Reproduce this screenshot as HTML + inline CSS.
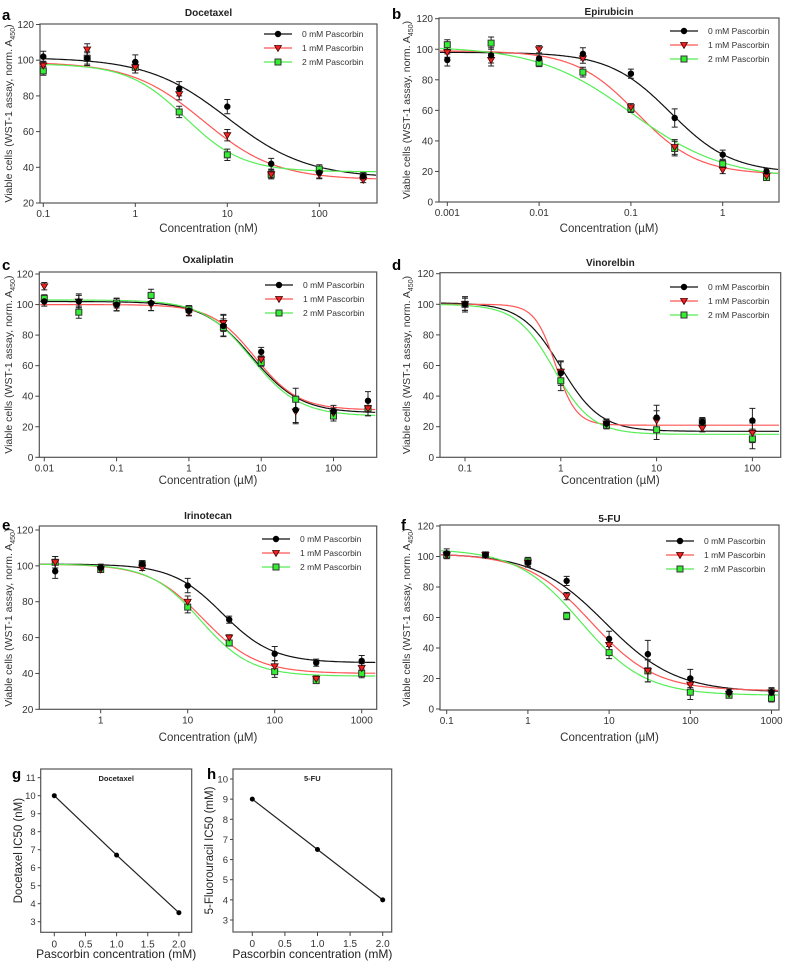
<!DOCTYPE html>
<html><head><meta charset="utf-8"><style>
html,body{margin:0;padding:0;background:#fff;}
svg{display:block;font-family:"Liberation Sans",Arial,sans-serif;}
</style></head><body>
<svg id="fig" width="785" height="967" viewBox="0 0 785 967" xmlns="http://www.w3.org/2000/svg"></svg>
<script>
// ---------- DATA ----------
const seriesNames = ["0 mM Pascorbin","1 mM Pascorbin","2 mM Pascorbin"];
// Panel a: Docetaxel
const aX = [0.1,0.3,1,3,10,30,100,300];
const aS0 = [102,101,99,84,74,42,37,35];
const aS1 = [97,106,96,81,58,36,36,33];
const aS2 = [94,101,96,71,47,36,39,35];
const aErr = [3,4,4,4,4,3,3,2];
const aFit0 = [101.5,34,10,1.0], aFit1 = [99,33,5.5,1.1], aFit2 = [98,37.5,3.5,1.4];
// Panel b: Epirubicin
const bX = [0.001,0.003,0.01,0.03,0.1,0.3,1,3];
const bS0 = [93,96,94,97,84,55,31,20];
const bS1 = [98,93,100,94,62,36,21,17];
const bS2 = [103,104,91,85,61,35,25,16];
const bErr = [4,5,3,4,3,6,3,2];
const bFit0 = [98,19,0.27,1.3], bFit1 = [99,18,0.115,1.3], bFit2 = [102,15,0.1,0.85];
// Panel c: Oxaliplatin
const cX = [0.01,0.03,0.1,0.3,1,3,10,30,100,300];
const cS0 = [102,102,100,101,96,86,69,31,30,37];
const cS1 = [112,102,99,100,95,88,64,30,29,32];
const cS2 = [104,95,101,106,97,85,62,38,27,32];
const cErr = [3,5,4,5,3,7,3,9,4,6];
const cFit0 = [102,29,7.5,1.3], cFit1 = [100,31,8.2,1.45], cFit2 = [103,27,7.3,1.3];
// Panel d: Vinorelbin
const dX = [0.1,1,3,10,30,100];
const dS0 = [100,55,22,26,23,24];
const dS1 = [100,56,22,24,19,16];
const dS2 = [100,50,21,18,23,12];
const dErr = [5,8,3,8,3,8];
const dFit0 = [101,17,1.0,2.1], dFit1 = [100,21,0.88,4], dFit2 = [100,15,0.85,2.2];
// Panel e: Irinotecan
const eX = [0.3,1,3,10,30,100,300,1000];
const eS0 = [97,99,101,89,70,51,46,47];
const eS1 = [102,98,99,80,60,44,37,43];
const eS2 = [102,98,101,77,57,41,36,40];
const eErr = [4,2,2,4,2,4,2,3];
const eFit0 = [101,46,25,1.5], eFit1 = [101,40,15,1.4], eFit2 = [101,38.5,14,1.5];
// Panel f: 5-FU
const fX = [0.1,0.3,1,3,10,30,100,300,1000];
const fS0 = [102,101,96,84,46,36,20,11,11];
const fS1 = [101,101,96,74,42,25,16,10,11];
const fS2 = [101,101,97,61,37,25,11,9,7];
const fErr = [3,2,3,3,5,9,6,2,3];
const fFit0 = [102,11,9,1.0], fFit1 = [102,12,6,1.1], fFit2 = [105,9,4.5,1.1];
// Panels g,h
const ghX = [0,1,2];
const gY = [10,6.7,3.5];
const hY = [9,6.5,4];
const gXTicks = [0,0.5,1.0,1.5,2.0];
const gYTicks = [3,4,5,6,7,8,9,10,11];
const hYTicks = [3,4,5,6,7,8,9,10];

// ---------- RENDER ----------
const NS="http://www.w3.org/2000/svg";
const svg=document.getElementById('fig');
function mk(tag,attrs,parent,name,inter){
  const el=document.createElementNS(NS,tag);
  for(const k in attrs) el.setAttribute(k,attrs[k]);
  
  
  (parent||svg).appendChild(el); return el;
}
function txt(x,y,s,attrs,parent,name){
  const t=mk('text',Object.assign({x:x,y:y},attrs||{}),parent,name);
  t.textContent=s; return t;
}
const lineCol=["#111","#ff5555","#55ee55"];

function drawMarker(g,type,x,y){
  let m;
  if(type===0){ m=mk('circle',{cx:x,cy:y,r:3.2,fill:'#000'},g,'marker-circle'); }
  else if(type===1){ m=mk('path',{d:`M${x-3.5},${y-2.5}L${x+3.5},${y-2.5}L${x},${y+3.5}Z`,fill:'#e22',stroke:'#400',"stroke-width":0.8},g,'marker-triangle'); }
  else { m=mk('rect',{x:x-3,y:y-3,width:6,height:6,fill:'#3e3',stroke:'#333',"stroke-width":1},g,'marker-square'); }
  return m;
}

function panel(cfg){
  const g=mk('g',{},svg,'panel-'+cfg.letter);
  const {L,R,T,B}=cfg;
  const ys=v=>cfg.y0px+(v-cfg.y0)*(cfg.y1px-cfg.y0px)/(cfg.y1-cfg.y0);
  const xs=v=>cfg.xp0+(Math.log10(v)-cfg.xd0)*cfg.dec;
  const xinv=p=>Math.pow(10,cfg.xd0+(p-cfg.xp0)/cfg.dec);
  mk('rect',{x:L,y:T,width:R-L,height:B-T,fill:'none',stroke:'#555',"stroke-width":1.2},g,'plot-frame');
  cfg.yticks.forEach(v=>{
    const y=ys(v);
    mk('line',{x1:L-4,x2:L,y1:y,y2:y,stroke:'#444'},g,'y-tick');
    txt(L-6,y+3.5,String(v),{"font-size":10,"text-anchor":"end",fill:'#333'},g,'y-tick-label');
  });
  cfg.xtickVals.forEach((v,i)=>{
    const x=xs(v);
    mk('line',{x1:x,x2:x,y1:B,y2:B+4,stroke:'#444'},g,'x-tick');
    txt(x,B+14,cfg.xtickLabels[i],{"font-size":10,"text-anchor":"middle",fill:'#333'},g,'x-tick-label');
  });
  txt((L+R)/2,cfg.xtitleY,cfg.xtitle,{"font-size":11.5,"text-anchor":"middle",fill:'#333'},g,'x-axis-title');
  const yt=mk('text',{x:0,y:0,transform:`translate(${cfg.ytitleX},${(T+B)/2}) rotate(-90)`,"font-size":10.5,"text-anchor":"middle",fill:'#333'},g,'y-axis-title');
  yt.innerHTML='Viable cells (WST-1 assay, norm. A<tspan font-size="7" dy="3">450</tspan><tspan dy="-3">)</tspan>';
  txt((L+R)/2,cfg.titleY,cfg.title,{"font-size":10,"font-weight":"bold","text-anchor":"middle",fill:'#222'},g,'panel-title');
  txt(cfg.lx,cfg.ly,cfg.letter,{"font-size":15,"font-weight":"bold",fill:'#000'},g,'panel-letter');
  cfg.fits.forEach((p,si)=>{
    let d='';
    for(let px=L+1;px<=R-1;px+=1){
      const x=xinv(px);
      const v=p[1]+(p[0]-p[1])/(1+Math.pow(x/p[2],p[3]));
      d+=(d?'L':'M')+px.toFixed(1)+','+ys(v).toFixed(1);
    }
    mk('path',{d:d,fill:'none',stroke:lineCol[si],"stroke-width":1.2},g,'fit-curve-'+si);
  });
  cfg.series.forEach((arr,si)=>{
    arr.forEach((v,i)=>{
      const x=xs(cfg.x[i]), e=cfg.err[i]*(si===0?1:0.8);
      mk('path',{d:`M${x},${ys(v+e)}L${x},${ys(v-e)}M${x-3},${ys(v+e)}L${x+3},${ys(v+e)}M${x-3},${ys(v-e)}L${x+3},${ys(v-e)}`,stroke:'#222',"stroke-width":1,fill:'none'},g,'error-bar');
    });
  });
  [2,1,0].forEach(si=>{
    cfg.series[si].forEach((v,i)=>drawMarker(g,si,xs(cfg.x[i]),ys(v)));
  });
  const lg=mk('g',{},g,'legend');
  seriesNames.forEach((n,si)=>{
    const y=cfg.legY+si*cfg.legDy;
    mk('line',{x1:cfg.legX,x2:cfg.legX+cfg.legW,y1:y,y2:y,stroke:lineCol[si],"stroke-width":1.2},lg,'legend-line');
    drawMarker(lg,si,cfg.legX+cfg.legW/2,y);
    txt(cfg.legX+cfg.legW+10,y+3,n,{"font-size":8.5,fill:'#333'},lg,'legend-entry');
  });
}

panel({letter:'a',title:'Docetaxel',L:40,R:377,T:24,B:203,y0:20,y0px:203,y1:120,y1px:24.5,xp0:43.3,xd0:-1,dec:92,
  yticks:[20,40,60,80,100,120],xtickVals:[0.1,1,10,100],xtickLabels:['0.1','1','10','100'],
  xtitle:'Concentration (nM)',xtitleY:232,ytitleX:12,titleY:16,lx:2,ly:20,
  x:aX,series:[aS0,aS1,aS2],err:aErr,fits:[aFit0,aFit1,aFit2],legX:264,legW:28,legY:34,legDy:14});
panel({letter:'b',title:'Epirubicin',L:439,R:779,T:18,B:202,y0:0,y0px:202,y1:120,y1px:18.7,xp0:447.3,xd0:-3,dec:91.8,
  yticks:[0,20,40,60,80,100,120],xtickVals:[0.001,0.01,0.1,1],xtickLabels:['0.001','0.01','0.1','1'],
  xtitle:'Concentration (µM)',xtitleY:232,ytitleX:410,titleY:15,lx:392,ly:19,
  x:bX,series:[bS0,bS1,bS2],err:bErr,fits:[bFit0,bFit1,bFit2],legX:670,legW:28,legY:31,legDy:14});
panel({letter:'c',title:'Oxaliplatin',L:39.3,R:376.7,T:272,B:457.3,y0:0,y0px:457.3,y1:120,y1px:274,xp0:44.3,xd0:-2,dec:72.3,
  yticks:[0,20,40,60,80,100,120],xtickVals:[0.01,0.1,1,10,100],xtickLabels:['0.01','0.1','1','10','100'],
  xtitle:'Concentration (µM)',xtitleY:484,ytitleX:12,titleY:263,lx:2,ly:270,
  x:cX,series:[cS0,cS1,cS2],err:cErr,fits:[cFit0,cFit1,cFit2],legX:265,legW:28,legY:285,legDy:14});
panel({letter:'d',title:'Vinorelbin',L:440,R:780.7,T:272.7,B:457.3,y0:0,y0px:457.3,y1:120,y1px:273.7,xp0:465,xd0:-1,dec:95.8,
  yticks:[0,20,40,60,80,100,120],xtickVals:[0.1,1,10,100],xtickLabels:['0.1','1','10','100'],
  xtitle:'Concentration (µM)',xtitleY:484,ytitleX:410,titleY:266,lx:392,ly:270,
  x:dX,series:[dS0,dS1,dS2],err:dErr,fits:[dFit0,dFit1,dFit2],legX:670,legW:28,legY:287,legDy:14});
panel({letter:'e',title:'Irinotecan',L:39.3,R:376.7,T:526,B:709.3,y0:20,y0px:709.3,y1:120,y1px:530,xp0:100.7,xd0:0,dec:87,
  yticks:[20,40,60,80,100,120],xtickVals:[1,10,100,1000],xtickLabels:['1','10','100','1000'],
  xtitle:'Concentration (µM)',xtitleY:741,ytitleX:12,titleY:519,lx:2,ly:530,
  x:eX,series:[eS0,eS1,eS2],err:eErr,fits:[eFit0,eFit1,eFit2],legX:262,legW:28,legY:539,legDy:14});
panel({letter:'f',title:'5-FU',L:440,R:779,T:525,B:710,y0:0,y0px:709,y1:120,y1px:526,xp0:446.7,xd0:-1,dec:81.2,
  yticks:[0,20,40,60,80,100,120],xtickVals:[0.1,1,10,100,1000],xtickLabels:['0.1','1','10','100','1000'],
  xtitle:'Concentration (µM)',xtitleY:741,ytitleX:410,titleY:522,lx:401,ly:530,
  x:fX,series:[fS0,fS1,fS2],err:fErr,fits:[fFit0,fFit1,fFit2],legX:666,legW:28,legY:541,legDy:14});

function small(cfg){
  const g=mk('g',{},svg,'panel-'+cfg.letter);
  const {L,R,T,B}=cfg;
  const ys=v=>cfg.y0px+(v-cfg.y0)*(cfg.y1px-cfg.y0px)/(cfg.y1-cfg.y0);
  const xs=v=>cfg.x0px+v*cfg.xu;
  mk('rect',{x:L,y:T,width:R-L,height:B-T,fill:'none',stroke:'#555',"stroke-width":1.2},g,'plot-frame');
  cfg.yticks.forEach(v=>{
    const y=ys(v);
    mk('line',{x1:L-3,x2:L,y1:y,y2:y,stroke:'#444'},g,'y-tick');
    txt(L-5,y+3.5,String(v),{"font-size":9.5,"text-anchor":"end",fill:'#333'},g,'y-tick-label');
  });
  gXTicks.forEach(v=>{
    const x=xs(v);
    mk('line',{x1:x,x2:x,y1:B,y2:B+4,stroke:'#444'},g,'x-tick');
    txt(x,B+15,v===0?'0':v.toFixed(1),{"font-size":10,"text-anchor":"middle",fill:'#333'},g,'x-tick-label');
  });
  txt((L+R)/2,958,'Pascorbin concentration (mM)',{"font-size":12,"text-anchor":"middle",fill:'#222'},g,'x-axis-title');
  txt(0,0,cfg.ytitle,{transform:`translate(${cfg.ytitleX},${(T+B)/2}) rotate(-90)`,"font-size":11.5,"text-anchor":"middle",fill:'#222'},g,'y-axis-title');
  txt((L+R)/2,cfg.T+12,cfg.title,{"font-size":7.5,"font-weight":"bold","text-anchor":"middle",fill:'#222'},g,'panel-title');
  txt(cfg.lx,779,cfg.letter,{"font-size":15,"font-weight":"bold",fill:'#000'},g,'panel-letter');
  let d='';
  ghX.forEach((v,i)=>{d+=(i?'L':'M')+xs(v)+','+ys(cfg.y[i]);});
  mk('path',{d:d,fill:'none',stroke:'#222',"stroke-width":1.2},g,'ic50-line');
  ghX.forEach((v,i)=>mk('circle',{cx:xs(v),cy:ys(cfg.y[i]),r:2.5,fill:'#000'},g,'ic50-point'));
}
small({letter:'g',title:'Docetaxel',L:40.7,R:191.7,T:769,B:932.3,y0:3,y0px:921.7,y1:11,y1px:777.7,x0px:54.3,xu:62.3,
  yticks:gYTicks,y:gY,ytitle:'Docetaxel IC50 (nM)',ytitleX:22,lx:12});
small({letter:'h',title:'5-FU',L:233,R:391.7,T:769,B:932,y0:3,y0px:920,y1:10,y1px:779,x0px:252.3,xu:65.2,
  yticks:hYTicks,y:hY,ytitle:'5-Fluorouracil IC50 (mM)',ytitleX:213,lx:207});
</script>
</body></html>
